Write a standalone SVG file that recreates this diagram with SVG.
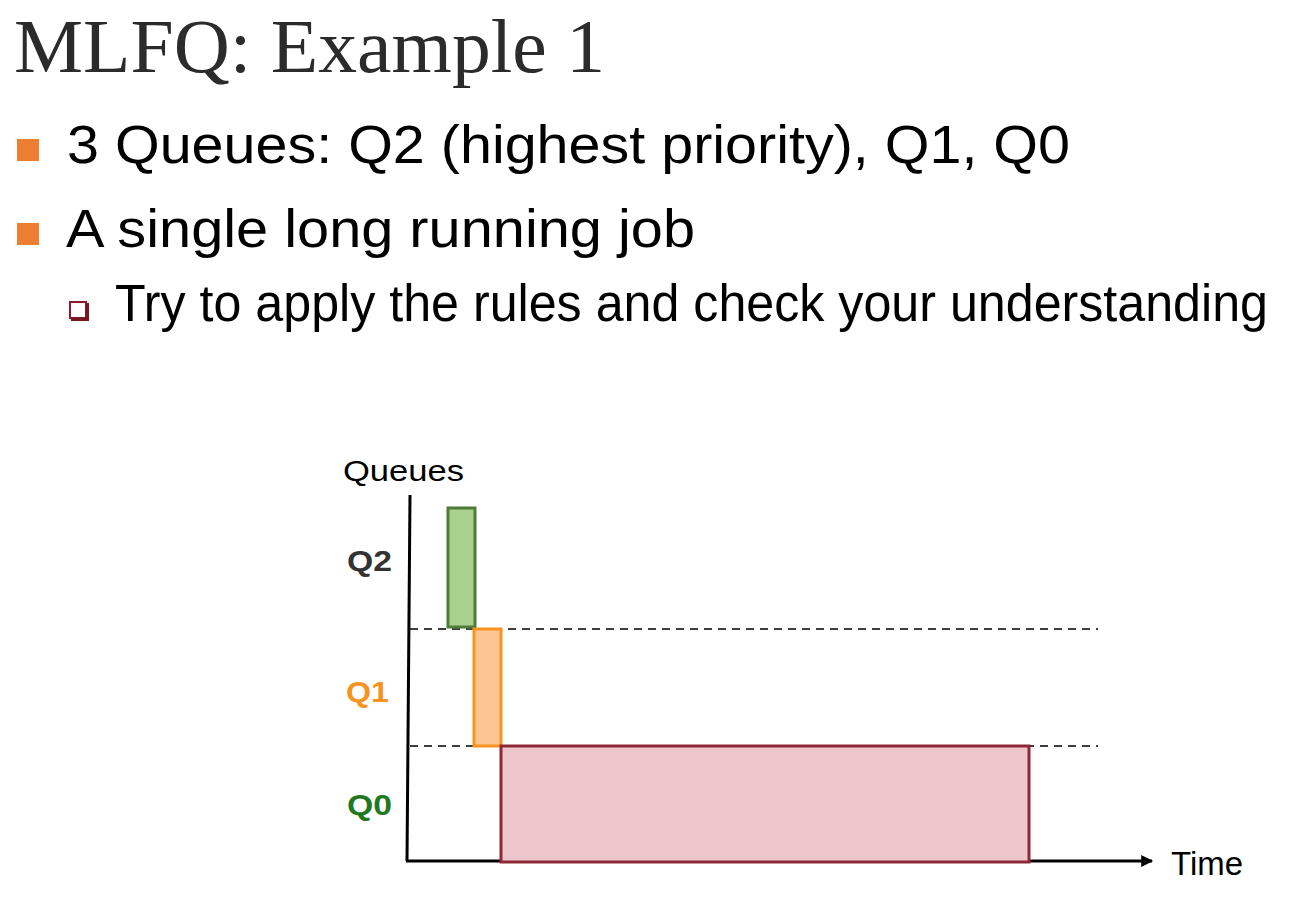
<svg xmlns="http://www.w3.org/2000/svg" width="1292" height="908" viewBox="0 0 1292 908">
<defs>
<style>
.title{font-family:"Liberation Serif","Times New Roman",serif;font-size:76px;fill:#2b2b2b}
.b{font-family:"Liberation Sans",Arial,sans-serif;fill:#000}
.lbl{font-family:"Liberation Sans",Arial,sans-serif;font-weight:bold;font-size:30px}
.dash{stroke:#000;stroke-width:1.5;stroke-dasharray:8 6;fill:none}
.axis{stroke:#000;stroke-width:3;fill:none}
</style>
<marker id="arr" viewBox="0 0 10 10" refX="9" refY="5" markerWidth="4.5" markerHeight="4" orient="auto" markerUnits="strokeWidth">
<path d="M0,0 L10,5 L0,10 z" fill="#000"/>
</marker>
</defs>
<rect width="1292" height="908" fill="#fff"/>
<text class="title" x="14" y="72" textLength="591" lengthAdjust="spacingAndGlyphs">MLFQ: Example 1</text>
<g id="bullets">
<rect x="17" y="139" width="22" height="22" fill="#ED7D31"/>
<text class="b" x="67" y="163" font-size="53" textLength="1003" lengthAdjust="spacingAndGlyphs">3 Queues: Q2 (highest priority), Q1, Q0</text>
<rect x="17" y="223" width="22" height="22" fill="#ED7D31"/>
<text class="b" x="66" y="247" font-size="53" textLength="629" lengthAdjust="spacingAndGlyphs">A single long running job</text>
<rect x="70" y="302" width="16" height="16" fill="#fff" stroke="#8b1a2a" stroke-width="2"/>
<path d="M71,319.5 H87.5 V303" fill="none" stroke="#7a1522" stroke-width="3"/>
<text class="b" x="115" y="321" font-size="51" textLength="1153" lengthAdjust="spacingAndGlyphs">Try to apply the rules and check your understanding</text>
</g>
<g id="labels">
<text class="b" x="343" y="481" font-size="30" textLength="121" lengthAdjust="spacingAndGlyphs">Queues</text>
<text class="lbl" x="347" y="571" fill="#333" textLength="45" lengthAdjust="spacingAndGlyphs">Q2</text>
<text class="lbl" x="346" y="702" fill="#F7931E" textLength="43" lengthAdjust="spacingAndGlyphs">Q1</text>
<text class="lbl" x="347" y="815" fill="#1F7A1F" textLength="45" lengthAdjust="spacingAndGlyphs">Q0</text>
<text class="b" x="1171" y="875" font-size="34" textLength="72" lengthAdjust="spacingAndGlyphs">Time</text>
</g>
<g id="connectors">
<line class="dash" x1="410" y1="629" x2="1098" y2="629"/>
<line class="dash" x1="410" y1="746" x2="1098" y2="746"/>
<line class="axis" x1="410" y1="495" x2="407" y2="861"/>
<line class="axis" x1="406" y1="861" x2="1152" y2="861" marker-end="url(#arr)"/>
</g>
<g id="q2-run"><rect x="448" y="508" width="27" height="119" fill="#A9D18E" stroke="#4E7D3A" stroke-width="3"/></g>
<g id="q1-run"><rect x="474" y="629" width="27" height="117" fill="#FDC593" stroke="#F7931E" stroke-width="3"/></g>
<g id="q0-run"><rect x="501" y="746" width="528" height="116" fill="#ECC6CB" stroke="#8F2836" stroke-width="3"/></g>
</svg>
